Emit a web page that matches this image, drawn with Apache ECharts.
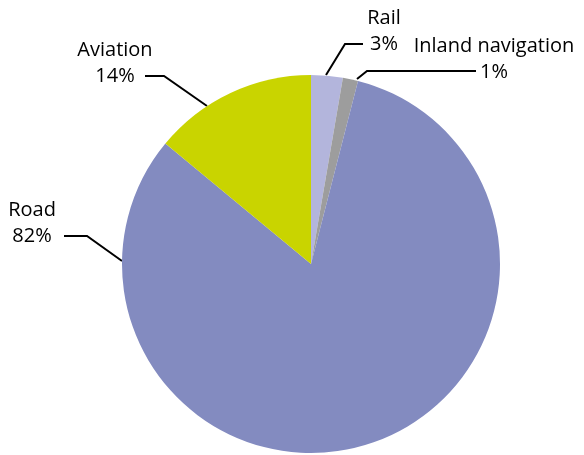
<!DOCTYPE html>
<html><head><meta charset="utf-8">
<script src="https://cdn.jsdelivr.net/npm/echarts@6/dist/echarts.min.js"></script>
<style>html,body{margin:0;padding:0;background:#fff}#c{width:584px;height:455px}</style>
</head><body><div id="c"></div>
<script>
const categories = ['Rail', 'Inland navigation', 'Road', 'Aviation'];
const shares = [2.7, 1.3, 82, 14];
const colors = ['#b3b5dc', '#9d9d9d', '#838bc0', '#c9d400'];

// label placement (style): text centre x, centre y of the value line, leader line points
const labelPlacement = {
  'Rail':              { x: 384, y: 44, line: [[326, 75], [345, 44], [363, 44]] },
  'Inland navigation': { x: 494, y: 72, line: [[357, 79], [367, 71], [476, 71]] },
  'Road':              { x: 32,  y: 236, line: [[122, 261], [87, 236], [64, 236]] },
  'Aviation':          { x: 115, y: 76, line: [[207, 106], [164, 76], [145, 76]] }
};
const LH = 26;

const chart = echarts.init(document.getElementById('c'));
chart.setOption({
  animation: false,
  series: [{
    type: 'pie',
    center: [311, 264],
    radius: 189,
    startAngle: 90,
    clockwise: true,
    percentPrecision: 0,
    avoidLabelOverlap: false,
    label: {
      formatter: '{b}\n{d}%',
      fontFamily: 'Open Sans',
      fontSize: 20,
      lineHeight: LH,
      color: '#000',
      align: 'center'
    },
    labelLine: { show: true, lineStyle: { color: '#000', width: 2 } },
    labelLayout: function (p) {
      const pl = labelPlacement[categories[p.dataIndex]];
      return {
        x: pl.x, y: pl.y - LH / 2,
        align: 'center', verticalAlign: 'middle',
        labelLinePoints: pl.line
      };
    },
    data: categories.map((n, i) => ({
      name: n, value: shares[i],
      itemStyle: { color: colors[i] }
    }))
  }]
});
</script></body></html>
